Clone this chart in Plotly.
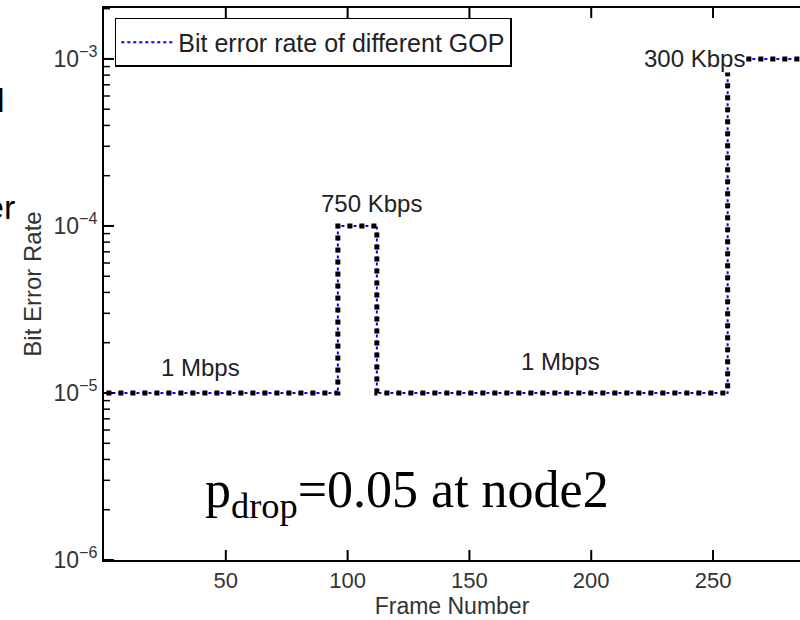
import math
import plotly.graph_objects as go

# ---- data ----
frames = [1, 96, 112, 256, 286]
ber = [1e-5, 1e-4, 1e-5, 1e-3, 1e-3]

x_ticks = [50, 100, 150, 200, 250]
y_ticks = [1e-6, 1e-5, 1e-4, 1e-3]
y_ticktext = ["10<sup>\u2212" + str(k) + "</sup>" for k in (6, 5, 4, 3)]
y_minor_ticks = [m * d for d in (1e-6, 1e-5, 1e-4, 1e-3) for m in range(2, 10)]

rate_labels = ["1 Mbps", "750 Kbps", "1 Mbps", "300 Kbps"]
rate_label_x = [39.7, 109.8, 187.2, 242.4]
rate_label_logy = [-4.85, -3.868, -4.814, -3.0]

legend_name = "Bit error rate of different GOP"
note_text = "p<sub>drop</sub>=0.05 at node2"

SANS = "Liberation Sans, Arial, sans-serif"
SERIF = "Liberation Serif, Times New Roman, serif"
X_RANGE = [0, 285.7]
Y_RANGE = [-6, -2.695]


def y_paper(v):
    return (math.log10(v) - Y_RANGE[0]) / (Y_RANGE[1] - Y_RANGE[0])


fig = go.Figure()

fig.add_trace(go.Scatter(
    x=frames, y=ber, mode="lines", line_shape="hv",
    name=legend_name,
    line=dict(color="rgb(0,0,255)", width=2, dash="dot"),
))
fig.add_trace(go.Scatter(
    x=frames, y=ber, mode="lines", line_shape="hv",
    showlegend=False, hoverinfo="skip",
    line=dict(color="black", width=5, dash="5px,7px"),
))

for t, xx, yy in zip(rate_labels, rate_label_x, rate_label_logy):
    fig.add_annotation(
        x=xx, y=yy, xref="x", yref="y", text=t, showarrow=False,
        font=dict(family=SANS, size=24, color="#222"),
        bgcolor="white" if t == "300 Kbps" else "rgba(0,0,0,0)",
        borderpad=0,
    )

fig.add_annotation(
    x=0.142, y=0.121, xref="paper", yref="paper", text=note_text,
    showarrow=False, xanchor="left", yanchor="middle",
    font=dict(family=SERIF, size=52, color="black"),
)

# fragments of surrounding slide text, cut off at the left edge
fig.add_annotation(x=-0.1395, y=0.833, xref="paper", yref="paper", text="l",
                   showarrow=False, xanchor="right", yanchor="middle",
                   font=dict(family=SANS, size=34, color="black"))
fig.add_annotation(x=-0.1254, y=0.64, xref="paper", yref="paper", text="er",
                   showarrow=False, xanchor="right", yanchor="middle",
                   font=dict(family=SANS, size=34, color="black"))

# inward MATLAB-style tick marks (bottom + top on x, left on y)
tick_style = dict(color="black", width=2)
for v in x_ticks:
    fig.add_shape(type="line", xref="x", yref="paper", x0=v, x1=v,
                  ysizemode="pixel", yanchor=0, y0=0, y1=10, line=tick_style)
    fig.add_shape(type="line", xref="x", yref="paper", x0=v, x1=v,
                  ysizemode="pixel", yanchor=1, y0=0, y1=-10, line=tick_style)
for v in y_ticks:
    p = y_paper(v)
    fig.add_shape(type="line", xref="paper", yref="paper", y0=p, y1=p,
                  xsizemode="pixel", xanchor=0, x0=0, x1=10, line=tick_style)
for v in y_minor_ticks:
    p = y_paper(v)
    fig.add_shape(type="line", xref="paper", yref="paper", y0=p, y1=p,
                  xsizemode="pixel", xanchor=0, x0=0, x1=6,
                  line=dict(color="black", width=1.5))

fig.update_layout(
    template="none",
    width=800, height=620,
    margin=dict(l=104, r=0, t=8, b=60),
    paper_bgcolor="white", plot_bgcolor="white",
    showlegend=True,
    legend=dict(
        x=0.0155, y=0.982, xanchor="left", yanchor="top",
        bgcolor="white", bordercolor="black", borderwidth=1.5,
        font=dict(family=SANS, size=25, color="#222"),
        itemwidth=52,
    ),
    xaxis=dict(
        range=X_RANGE, tickmode="array", tickvals=x_ticks,
        ticks="", showline=True, linecolor="black", linewidth=2, mirror=True,
        showgrid=False, zeroline=False,
        tickfont=dict(family=SANS, size=22, color="#333"),
        title=dict(text="Frame Number", font=dict(family=SANS, size=23, color="#333"), standoff=0),
    ),
    yaxis=dict(
        type="log", range=Y_RANGE, tickmode="array",
        tickvals=y_ticks, ticktext=y_ticktext,
        ticks="", showline=True, linecolor="black", linewidth=2, mirror=False,
        showgrid=False, zeroline=False,
        tickfont=dict(family=SANS, size=23, color="#333"),
        title=dict(text="Bit Error Rate", font=dict(family=SANS, size=24, color="#333"), standoff=5),
    ),
)

fig.write_html("out.html")
